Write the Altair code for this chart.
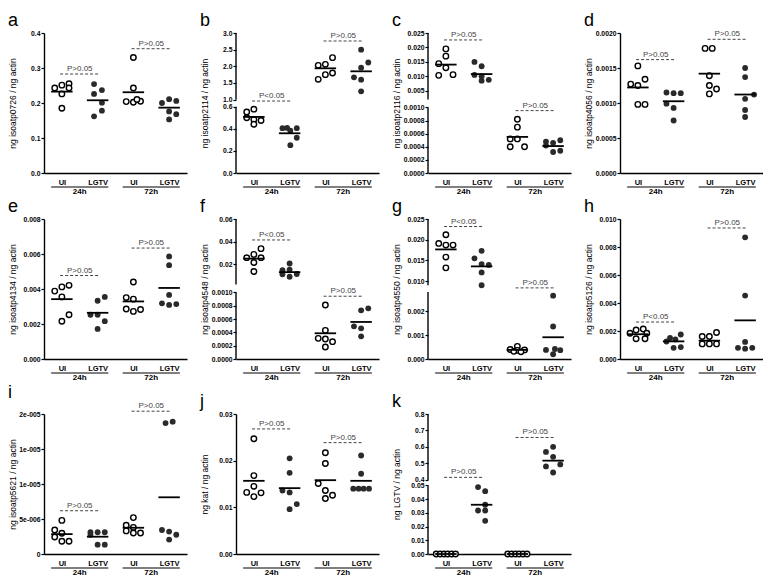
import altair as alt
import pandas as pd

FONT = "Liberation Sans"
W, H = 143, 140

GROUP_LABELS = ["UI", "LGTV", "UI", "LGTV"]
TIME_LABELS = ["24h", "72h"]
LETTERS = ["a", "b", "c", "d", "e", "f", "g", "h", "i", "j", "k"]
Y_TITLES = [
    "ng isoatp0726 / ng actin", "ng isoatp2114 / ng actin", "ng isoatp2116 / ng actin",
    "ng isoatp4056 / ng actin", "ng isoatp4134 / ng actin", "ng isoatp4548 / ng actin",
    "ng isoatp4550 / ng actin", "ng isoatp5126 / ng actin", "ng isoatp5621 / ng actin",
    "ng kat / ng actin", "ng LGTV / ng actin",
]

# ---- measured values (UI 24h, LGTV 24h, UI 72h, LGTV 72h) ----
VAL_A = [[0.243, 0.251, 0.255, 0.243, 0.226, 0.185],
         [0.254, 0.237, 0.226, 0.201, 0.178, 0.162],
         [0.330, 0.243, 0.204, 0.202, 0.205, 0.210],
         [0.211, 0.206, 0.200, 0.176, 0.168, 0.153]]
VAL_B = [[0.551, 0.577, 0.499, 0.484, 0.475, 0.441],
         [0.405, 0.408, 0.383, 0.405, 0.319, 0.252],
         [2.03, 2.06, 2.26, 1.61, 1.75, 1.80],
         [2.50, 2.115, 1.96, 1.67, 1.60, 1.25]]
VAL_C = [[0.0195, 0.0170, 0.0144, 0.0130, 0.01035, 0.0106],
         [0.0150, 0.0135, 0.0105, 0.0100, 0.0088, 0.0085],
         [0.00082, 0.00070, 0.00052, 0.00052, 0.00040, 0.00040],
         [0.00048, 0.00046, 0.00050, 0.00042, 0.00032, 0.00034]]
VAL_D = [[0.00153, 0.00127, 0.00125, 0.00134, 0.00098, 0.00098],
         [0.00115, 0.00114, 0.00114, 0.00099, 0.00093, 0.00075],
         [0.00178, 0.00178, 0.00139, 0.00125, 0.00120, 0.00113],
         [0.00150, 0.00137, 0.00112, 0.00106, 0.00090, 0.00080]]
VAL_E = [[0.00388, 0.00412, 0.00421, 0.00355, 0.00253, 0.00216],
         [0.00253, 0.00253, 0.00333, 0.00355, 0.00216, 0.00172],
         [0.00440, 0.00351, 0.00342, 0.00286, 0.00272, 0.00283],
         [0.00586, 0.00536, 0.00366, 0.00318, 0.00309, 0.00314]]
VAL_F = [[0.0257, 0.0286, 0.0337, 0.0257, 0.0214, 0.0134],
         [0.0205, 0.0145, 0.0150, 0.0110, 0.0088, 0.0112],
         [0.00081, 0.00043, 0.00031, 0.00030, 0.00026, 0.00018],
         [0.00073, 0.00076, 0.00049, 0.00046, 0.00034]]
VAL_G = [[0.0212, 0.0191, 0.0187, 0.0187, 0.0158, 0.0132],
         [0.0173, 0.0155, 0.0141, 0.0139, 0.0121, 0.0090],
         [0.00053, 0.00040, 0.00036, 0.00038, 0.00032, 0.00030],
         [0.00265, 0.00136, 0.00038, 0.00020, 0.00037, 0.00042]]
VAL_H = [[0.00207, 0.00214, 0.00184, 0.00184, 0.00145, 0.00145],
         [0.00175, 0.00150, 0.00140, 0.00125, 0.00080, 0.00085],
         [0.00161, 0.00161, 0.00189, 0.00108, 0.00108, 0.00108],
         [0.00869, 0.00453, 0.00122, 0.00080, 0.00074, 0.00080]]
VAL_I = [[4.8e-6, 3.43e-6, 2.97e-6, 2.43e-6, 1.83e-6, 1.83e-6],
         [3.11e-6, 3.11e-6, 3.11e-6, 2.75e-6, 1.33e-6, 1.33e-6],
         [5.2e-6, 4.1e-6, 3.8e-6, 3.3e-6, 3.0e-6, 3.0e-6],
         [18.7e-6, 18.9e-6, 3.43e-6, 3.2e-6, 2.75e-6, 2.06e-6]]
VAL_J = [[0.0247, 0.0168, 0.0145, 0.0132, 0.0131, 0.0123],
         [0.0205, 0.0174, 0.0136, 0.0132, 0.0107, 0.0096],
         [0.0217, 0.0194, 0.0151, 0.0136, 0.0126, 0.0119],
         [0.0211, 0.0172, 0.0140, 0.0140, 0.0140, 0.0140]]
VAL_K = [[0, 0, 0, 0, 0, 0],
         [0.0488, 0.0458, 0.0359, 0.0317, 0.0317, 0.0242],
         [0, 0, 0, 0, 0, 0],
         [0.601, 0.570, 0.540, 0.494, 0.482, 0.445]]

# horizontal scatter offsets of each point (category units)
OFF_A = [[-0.2, 0, 0.2, 0.2, 0, 0], [-0.1, 0.12, -0.1, 0.12, 0.12, -0.1],
         [0, 0, -0.2, 0, 0.2, 0.1], [0, 0.2, -0.2, 0, 0.2, 0]]
OFF_B = [[-0.2, 0, -0.2, 0, 0.2, 0], [-0.2, -0.07, 0.02, 0.2, 0.2, 0.02],
         [-0.2, 0, 0.2, -0.2, 0, 0.2], [0, 0.2, 0, -0.2, 0, 0]]
OFF_C = [[0, 0, -0.2, 0, -0.2, 0.2], [-0.2, 0, -0.2, 0, 0.2, 0],
         [0, 0, -0.2, 0, -0.2, 0.2], [-0.2, 0, 0.2, -0.2, 0, 0.2]]
OFF_D = [[0, -0.2, 0, 0.2, 0, 0.2], [-0.2, 0, 0.2, -0.2, 0, 0],
         [-0.12, 0.08, 0, 0, 0.2, 0], [0, 0, 0.25, 0, 0, 0]]
OFF_E = [[-0.2, 0, 0.2, 0, 0.2, 0], [-0.2, 0, 0, 0.2, 0.2, 0],
         [0, -0.2, 0, -0.2, 0, 0.2], [0, 0, 0, -0.2, 0, 0.2]]
OFF_F = [[-0.2, 0, 0.2, 0.2, 0, 0], [0, -0.2, 0, -0.2, 0, 0.2],
         [0, 0, -0.2, 0, 0.2, 0], [0, 0.2, -0.2, 0, 0]]
OFF_G = [[0, -0.2, 0, 0.2, 0, 0], [0, -0.2, 0, 0.2, 0, 0],
         [0, -0.2, 0, 0.2, -0.1, 0.1], [0, 0, -0.2, 0, 0.2, 0.05]]
OFF_H = [[-0.05, 0.15, -0.22, 0.25, -0.05, 0.2], [0.2, -0.1, 0.05, -0.2, 0, 0.2],
         [-0.2, 0, 0.2, -0.2, 0, 0.2], [0, 0, 0, -0.2, 0, 0.2]]
OFF_I = [[0, -0.2, 0, -0.2, 0, 0.2], [-0.2, 0, 0.2, -0.2, 0, 0.2],
         [0, -0.2, 0, -0.2, 0, 0.2], [-0.1, 0.1, -0.2, 0, 0.2, 0]]
OFF_J = [[0, 0, 0, -0.2, 0.2, 0], [0, 0, -0.2, 0, 0.2, 0],
         [0, 0, -0.2, 0, 0.2, 0], [0, 0, -0.22, -0.07, 0.07, 0.22]]
OFF_K = [[-0.27, -0.16, -0.05, 0.05, 0.16, 0.27], [-0.1, 0.1, 0.1, -0.1, 0.1, 0.1],
         [-0.27, -0.16, -0.05, 0.05, 0.16, 0.27], [0, -0.2, 0, 0.2, -0.2, 0]]

VALUES = [VAL_A, VAL_B, VAL_C, VAL_D, VAL_E, VAL_F, VAL_G, VAL_H, VAL_I, VAL_J, VAL_K]
OFFSETS = [OFF_A, OFF_B, OFF_C, OFF_D, OFF_E, OFF_F, OFF_G, OFF_H, OFF_I, OFF_J, OFF_K]

# group means (horizontal bars) as drawn
MEANS = [
    [0.2325, 0.2078, 0.2307, 0.1867],
    [0.507, 0.359, 1.94, 1.85],
    [0.01407, 0.01079, 0.000551, 0.000411],
    [0.001222, 0.001025, 0.001419, 0.001121],
    [0.00342, 0.00264, 0.00329, 0.00406],
    [0.02486, 0.01286, 0.000386, 0.000556],
    [0.01765, 0.01355, 0.000381, 0.00091],
    [0.00177, 0.00126, 0.00131, 0.00276],
    [2.84e-6, 2.47e-6, 3.75e-6, 8.1e-6],
    [0.01568, 0.01411, 0.01582, 0.01568],
    [0.0, 0.0359, 0.0, 0.517],
]

SIG_TEXT = [
    ["P>0.05", "P>0.05"], ["P<0.05", "P>0.05"], ["P>0.05", "P>0.05"], ["P>0.05", "P>0.05"],
    ["P>0.05", "P>0.05"], ["P<0.05", "P>0.05"], ["P<0.05", "P>0.05"], ["P<0.05", "P>0.05"],
    ["P>0.05", "P>0.05"], ["P>0.05", "P>0.05"], ["P>0.05", "P>0.05"],
]
SIG_Y = [
    [0.2828, 0.3551], [0.92, 2.76], [0.0226, 0.000952], [0.00162, 0.00191],
    [0.00477, 0.00634], [0.0414, 0.000942], [0.02318, 0.0066], [0.00264, 0.00936],
    [6.18e-6, 20.4e-6], [0.0268, 0.02386], [0.4156, 0.6576],
]

Y_TOP = [0.4, 3.0, 0.025, 0.002, 0.008, 0.06, 0.025, 0.010, 2e-5, 0.03, 0.8]

TICKS = [
    [0, 0.1, 0.2, 0.3, 0.4],
    [0, 0.2, 0.4, 0.6, 1.0, 1.5, 2.0, 2.5, 3.0],
    [0, 0.0002, 0.0004, 0.0006, 0.0008, 0.001, 0.005, 0.010, 0.015, 0.020, 0.025],
    [0, 0.0005, 0.001, 0.0015, 0.002],
    [0, 0.002, 0.004, 0.006, 0.008],
    [0, 0.0002, 0.0004, 0.0006, 0.0008, 0.001, 0.02, 0.04, 0.06],
    [0, 0.001, 0.002, 0.010, 0.015, 0.020, 0.025],
    [0, 0.002, 0.004, 0.006, 0.008, 0.010],
    [0, 5e-6, 1e-5, 1.5e-5, 2e-5],
    [0, 0.01, 0.02, 0.03],
    [0, 0.01, 0.02, 0.03, 0.04, 0.05, 0.4, 0.5, 0.6, 0.7, 0.8],
]
TICK_LABELS = [
    ["0.0", "0.1", "0.2", "0.3", "0.4"],
    ["0.0", "0.2", "0.4", "0.6", "1.0", "1.5", "2.0", "2.5", "3.0"],
    ["0.0000", "0.0002", "0.0004", "0.0006", "0.0008", "0.0010", "0.005", "0.010", "0.015", "0.020", "0.025"],
    ["0.0000", "0.0005", "0.0010", "0.0015", "0.0020"],
    ["0.000", "0.002", "0.004", "0.006", "0.008"],
    ["0.0000", "0.0002", "0.0004", "0.0006", "0.0008", "0.0010", "0.02", "0.04", "0.06"],
    ["0.000", "0.001", "0.002", "0.010", "0.015", "0.020", "0.025"],
    ["0.000", "0.002", "0.004", "0.006", "0.008", "0.010"],
    ["0", "5e-006", "1e-005", "1e-005", "2e-005"],
    ["0.00", "0.01", "0.02", "0.03"],
    ["0.00", "0.01", "0.02", "0.03", "0.04", "0.05", "0.4", "0.5", "0.6", "0.7", "0.8"],
]

# broken axes: (top of lower segment, bottom of upper segment)
BREAKS = {1: (0.6, 1.0), 2: (0.001, 0.002), 5: (0.001, 0.002), 6: (0.0028, 0.009), 10: (0.05, 0.4)}
# layout: fraction of plot height at which each segment ends
BREAK_FRAC = {1: (0.474, 0.524), 2: (0.468, 0.525), 5: (0.476, 0.533), 6: (0.478, 0.527), 10: (0.49, 0.529)}


def label_expr(ticks, labels):
    expr = f"'{labels[-1]}'"
    for i in range(len(ticks) - 2, -1, -1):
        mid = (ticks[i] + ticks[i + 1]) / 2
        expr = f"datum.value < {mid!r} ? '{labels[i]}' : ({expr})"
    return expr


def panel(p):
    cats = [1, 2, 3, 4]
    open_rows, fill_rows = [], []
    for g, (vals, offs) in enumerate(zip(VALUES[p], OFFSETS[p])):
        for v, o in zip(vals, offs):
            row = {"x": cats[g] + o, "y": v}
            (open_rows if g % 2 == 0 else fill_rows).append(row)
    df_open = pd.DataFrame(open_rows)
    df_fill = pd.DataFrame(fill_rows)
    df_mean = pd.DataFrame({"x1": [c - 0.3 for c in cats], "x2": [c + 0.3 for c in cats], "y": MEANS[p]})
    df_sig = pd.DataFrame({"x1": [0.95, 2.95], "x2": [2.05, 4.05], "xm": [1.5, 3.5],
                           "y": SIG_Y[p], "t": SIG_TEXT[p]})
    df_grp = pd.DataFrame({"x1": [0.7, 2.7], "x2": [2.3, 4.3], "xm": [1.5, 3.5], "t": TIME_LABELS})

    top = Y_TOP[p]
    brk = BREAKS.get(p)
    if brk:
        fl, fu = BREAK_FRAC[p]
        yscale = alt.Scale(domain=[0, brk[0], brk[1], top], range=[H, H * (1 - fl), H * (1 - fu), 0],
                           nice=False, zero=False)
        df_seg = pd.DataFrame({"y1": [0, brk[1]], "y2": [brk[0], top]})
    else:
        yscale = alt.Scale(domain=[0, top], nice=False, zero=False)
        df_seg = None
    xscale = alt.Scale(domain=[0.5, 4.5], nice=False, zero=False)

    yaxis = alt.Axis(values=TICKS[p], labelExpr=label_expr(TICKS[p], TICK_LABELS[p]),
                     title=Y_TITLES[p], grid=False, domain=not brk, tickSize=3,
                     labelFontSize=6.8, labelFontWeight="bold", labelPadding=1,
                     minExtent=25, maxExtent=25, titleFontSize=8.5, titleFontWeight="normal",
                     titlePadding=2, labelFlush=False, labelOverlap=False)
    xaxis = alt.Axis(values=cats, labelExpr=label_expr(cats, GROUP_LABELS), ticks=False, grid=False,
                     title=None, labelFontSize=7.5, labelFontWeight="bold", labelPadding=5,
                     labelFlush=False, labelOverlap=False, labelAngle=0)

    X = lambda f: alt.X(f, scale=xscale, axis=xaxis)
    Y = lambda f: alt.Y(f, scale=yscale, axis=yaxis)

    pts_open = alt.Chart(df_open).mark_point(filled=True, fill="white", stroke="black", strokeWidth=1.4,
                                             size=30, opacity=1).encode(x=X("x:Q"), y=Y("y:Q"))
    pts_fill = alt.Chart(df_fill).mark_circle(size=34, color="#2a2a2a", opacity=1).encode(
        x=X("x:Q"), y=Y("y:Q"))
    means = alt.Chart(df_mean).mark_rule(color="black", strokeWidth=1.8).encode(
        x=X("x1:Q"), x2="x2:Q", y=Y("y:Q"))
    sig_line = alt.Chart(df_sig).mark_rule(color="#444", strokeWidth=1, strokeDash=[3, 2]).encode(
        x=X("x1:Q"), x2="x2:Q", y=Y("y:Q"))
    sig_txt = alt.Chart(df_sig).mark_text(baseline="bottom", dy=-1, fontSize=8, color="#444", font=FONT).encode(
        x=X("xm:Q"), y=Y("y:Q"), text="t:N")
    grp_line = alt.Chart(df_grp).mark_rule(color="black", strokeWidth=1).encode(
        x=X("x1:Q"), x2="x2:Q", y=alt.value(H + 14))
    grp_txt = alt.Chart(df_grp).mark_text(baseline="top", fontSize=8, fontWeight="bold",
                                          color="black", font=FONT).encode(
        x=X("xm:Q"), y=alt.value(H + 15), text="t:N")

    layers = []
    if df_seg is not None:
        layers.append(alt.Chart(df_seg).mark_rule(color="black", strokeWidth=1.4).encode(
            x=alt.value(0), y=Y("y1:Q"), y2="y2:Q"))
    layers += [pts_open, pts_fill, means, sig_line, sig_txt, grp_line, grp_txt]
    return alt.layer(*layers).properties(
        width=W, height=H,
        title=alt.TitleParams(text=LETTERS[p], anchor="start", frame="group", fontSize=18,
                              fontWeight="normal", font=FONT, color="black", dx=-36, offset=0))


chart = alt.concat(*[panel(p) for p in range(11)], columns=4,
                   spacing={"row": 2, "column": 13}).properties(
    padding={"left": 0, "top": 4, "right": 0, "bottom": 0}).configure_view(
    stroke=None).configure_axis(
    labelFont=FONT, titleFont=FONT, labelColor="black", titleColor="black",
    domainColor="black", domainWidth=1.4, tickColor="black", tickWidth=1.2)

chart.save("out.html", embed_options={"renderer": "svg", "actions": False})
